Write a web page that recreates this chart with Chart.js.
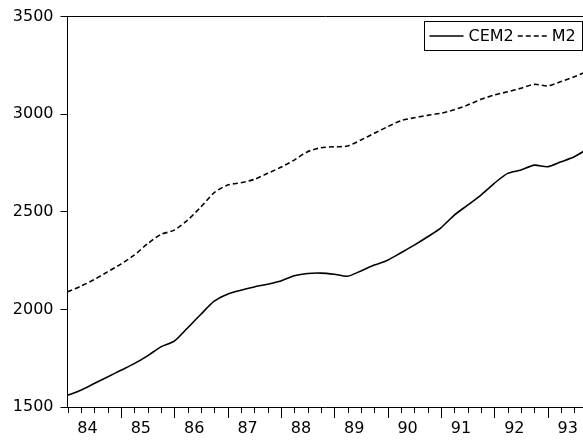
<!DOCTYPE html>
<html>
<head>
<meta charset="utf-8">
<script src="https://cdn.jsdelivr.net/npm/chart.js@4/dist/chart.umd.min.js"></script>
<style>
  html, body { margin: 0; padding: 0; background: #fff; }
  #wrap { width: 583px; height: 440px; }
</style>
</head>
<body>
<div id="wrap"><canvas id="chart"></canvas></div>
<script>
/* global Chart */

// quarter index, 0 = 1984Q1
let quarters = [0, 1, 2, 3, 4, 5, 6, 7, 8, 9, 10, 11, 12, 13, 14, 15, 16, 17, 18, 19,
    20, 21, 22, 23, 24, 25, 26, 27, 28, 29, 30, 31, 32, 33, 34, 35, 36, 37, 38, 39];

let cem2 = [1560, 1586, 1620, 1654, 1688, 1722, 1762, 1808, 1837, 1905,
    1975, 2042, 2078, 2098, 2115, 2129, 2146, 2172, 2184, 2186,
    2180, 2170, 2197, 2227, 2252, 2290, 2329, 2372, 2418, 2483,
    2534, 2586, 2646, 2697, 2714, 2739, 2731, 2756, 2782, 2822];

let m2 = [2090, 2119, 2153, 2192, 2232, 2278, 2336, 2384, 2406, 2457,
    2525, 2598, 2637, 2649, 2666, 2697, 2728, 2765, 2808, 2828,
    2833, 2837, 2868, 2902, 2936, 2967, 2982, 2994, 3005, 3023,
    3047, 3076, 3098, 3115, 3133, 3153, 3145, 3167, 3192, 3220];

let yearLabels = ['84', '85', '86', '87', '88', '89', '90', '91', '92', '93'];
let yTicks = [1500, 2000, 2500, 3000, 3500];

const FONT = { family: 'DejaVu Sans, sans-serif', size: 16 };

function toPoints(values) {
    return values.map((v, i) => ({ x: quarters[i], y: v }));
}

// quarterly tick marks on the bottom axis, longer ones at the start of each year
const quarterTicks = {
    id: 'quarterTicks',
    afterDraw(chart) {
        let xs = chart.scales.x;
        let ctx = chart.ctx;
        ctx.save();
        ctx.strokeStyle = '#000';
        ctx.lineWidth = 1;
        for (let q = 0; q <= Math.floor(xs.max); q++) {
            let px = Math.round(xs.getPixelForValue(q)) + 0.5;
            let len = (q % 4 === 0 && q > 0) ? 11 : 6;
            ctx.beginPath();
            ctx.moveTo(px, xs.top);
            ctx.lineTo(px, xs.top + len);
            ctx.stroke();
        }
        ctx.restore();
    }
};

// boxed legend inside the plot, top right
const boxLegend = {
    id: 'boxLegend',
    afterDraw(chart) {
        let ctx = chart.ctx;
        let area = chart.chartArea;
        ctx.save();
        ctx.font = FONT.size + 'px ' + FONT.family;
        ctx.textBaseline = 'middle';
        let sets = chart.data.datasets;
        let sampleLen = [34, 31];
        let widths = sets.map(d => ctx.measureText(d.label).width);
        let total = 5 + sampleLen[0] + 5 + widths[0] + 4 + sampleLen[1] + 3 + widths[1] + 7;
        let right = Math.min(area.right, 582) + 0.5;
        let left = Math.round(right - total) + 0.5;
        let top = Math.round(area.top + 4) + 0.5;
        let h = 29;
        let cy = top + h / 2;

        ctx.strokeStyle = '#000';
        ctx.lineWidth = 1;
        ctx.strokeRect(left, top, right - left, h);

        let x = left + 5;
        sets.forEach((d, i) => {
            ctx.beginPath();
            ctx.setLineDash(d.borderDash || []);
            ctx.lineWidth = d.borderWidth;
            ctx.moveTo(x, cy);
            ctx.lineTo(x + sampleLen[i], cy);
            ctx.stroke();
            ctx.setLineDash([]);
            x += sampleLen[i] + (i === 0 ? 5 : 3);
            ctx.fillStyle = '#000';
            ctx.fillText(d.label, x, cy + 1);
            x += widths[i] + 4;
        });
        ctx.restore();
    }
};

function noSidePadding(scale) {
    scale.paddingLeft = 0;
    scale.paddingRight = 0;
}

new Chart(document.getElementById('chart'), {
    type: 'line',
    data: {
        datasets: [
            {
                label: 'CEM2',
                data: toPoints(cem2),
                borderColor: '#000',
                borderWidth: 1.6,
                pointRadius: 0,
                tension: 0.25,
                fill: false
            },
            {
                label: 'M2',
                data: toPoints(m2),
                borderColor: '#000',
                borderWidth: 1.6,
                borderDash: [5, 3],
                pointRadius: 0,
                tension: 0.25,
                fill: false
            }
        ]
    },
    options: {
        responsive: true,
        maintainAspectRatio: false,
        animation: false,
        layout: { padding: 0 },
        plugins: {
            legend: { display: false },
            tooltip: { enabled: false }
        },
        scales: {
            x: {
                type: 'linear',
                position: 'bottom',
                min: 0,
                max: 38.65,
                afterBuildTicks: scale => {
                    scale.ticks = yearLabels.map((l, i) => ({ value: 4 * i + 1.5 }));
                },
                afterFit: scale => {
                    scale.height = 33;
                    noSidePadding(scale);
                },
                ticks: {
                    autoSkip: false,
                    maxRotation: 0,
                    padding: 12,
                    color: '#000',
                    font: FONT,
                    callback: v => yearLabels[Math.round((v - 1.5) / 4)]
                },
                grid: { drawOnChartArea: false, drawTicks: false },
                border: { display: true, color: '#000', width: 1 }
            },
            xTop: {
                type: 'linear',
                position: 'top',
                min: 0,
                max: 38.65,
                afterFit: scale => {
                    scale.height = 16.5;
                    noSidePadding(scale);
                },
                ticks: { display: false },
                grid: { drawOnChartArea: false, drawTicks: false },
                border: { display: true, color: '#000', width: 1 }
            },
            y: {
                min: 1500,
                max: 3500,
                afterBuildTicks: scale => {
                    scale.ticks = yTicks.map(v => ({ value: v }));
                },
                afterFit: scale => { scale.width = 67.5; },
                ticks: {
                    padding: 7,
                    color: '#000',
                    font: FONT,
                    callback: v => String(v)
                },
                grid: { drawOnChartArea: false, tickLength: 7, tickColor: '#000' },
                border: { display: true, color: '#000', width: 1 }
            }
        }
    },
    plugins: [quarterTicks, boxLegend]
});
</script>
</body>
</html>
